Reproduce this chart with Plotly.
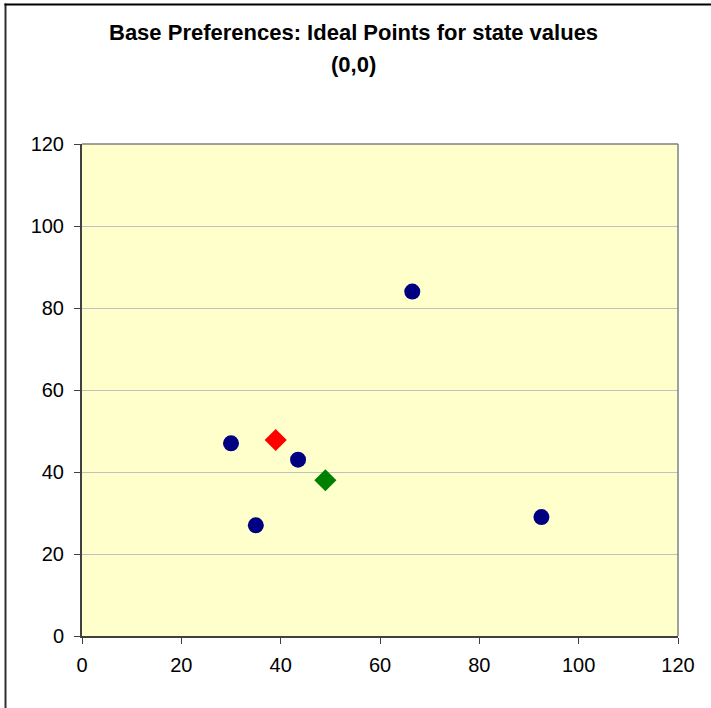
import plotly.graph_objects as go

# data
ideal_x = [30, 35, 43.5, 66.5, 92.5]
ideal_y = [47, 27, 43, 84, 29]
red_x = [39]
red_y = [47.8]
green_x = [49]
green_y = [38]
title_line1 = "Base Preferences: Ideal Points for state values"
title_line2 = "(0,0)"

W, H = 711, 708
L, R, T, B = 82, 33, 144, 72
pw, ph = W - L - R, H - T - B

def px_to_paper_x(px):
    return (px - L) / pw

def py_to_paper_y(py):
    return (H - B - py) / ph

fig = go.Figure()
fig.add_trace(go.Scatter(x=ideal_x, y=ideal_y, mode="markers",
                         marker=dict(symbol="circle", size=16, color="#000080"),
                         showlegend=False))
fig.add_trace(go.Scatter(x=red_x, y=red_y, mode="markers",
                         marker=dict(symbol="diamond", size=17, color="#FF0000"),
                         showlegend=False))
fig.add_trace(go.Scatter(x=green_x, y=green_y, mode="markers",
                         marker=dict(symbol="diamond", size=17, color="#008000"),
                         showlegend=False))

font = "Arial, Liberation Sans, sans-serif"
fig.update_layout(
    width=W, height=H,
    margin=dict(l=L, r=R, t=T, b=B),
    paper_bgcolor="white",
    plot_bgcolor="#FFFFCC",
    font=dict(family=font, size=20, color="black"),
    xaxis=dict(range=[0, 120], tickvals=[0, 20, 40, 60, 80, 100, 120],
               showgrid=False, zeroline=False,
               showline=True, linecolor="#404040", linewidth=2, mirror=False,
               ticks="outside", ticklen=6, tickcolor="#404040", tickwidth=1,
               ticklabelstandoff=4,
               tickfont=dict(size=20, family=font)),
    yaxis=dict(range=[0, 120], tickvals=[0, 20, 40, 60, 80, 100, 120],
               showgrid=True, gridcolor="#C0C0C0", gridwidth=1, zeroline=False,
               showline=True, linecolor="#404040", linewidth=2,
               ticks="outside", ticklen=6, tickcolor="#404040", tickwidth=1,
               ticklabelstandoff=6,
               tickfont=dict(size=20, family=font)),
    annotations=[
        dict(text="<b>" + title_line1 + "</b>", xref="paper", yref="paper",
             x=px_to_paper_x(353), y=py_to_paper_y(32), showarrow=False,
             xanchor="center", yanchor="middle",
             font=dict(size=22, family=font, color="black")),
        dict(text="<b>" + title_line2 + "</b>", xref="paper", yref="paper",
             x=px_to_paper_x(353), y=py_to_paper_y(65), showarrow=False,
             xanchor="center", yanchor="middle",
             font=dict(size=22, family=font, color="black")),
    ],
    shapes=[
        dict(type="line", xref="paper", yref="paper", x0=0, x1=1, y0=1, y1=1,
             line=dict(color="#808080", width=1.5)),
        dict(type="line", xref="paper", yref="paper", x0=1, x1=1, y0=0, y1=1,
             line=dict(color="#808080", width=1.5)),
        # outer chart-area border (left and top edges visible)
        dict(type="rect", xref="paper", yref="paper",
             x0=px_to_paper_x(4.5), x1=px_to_paper_x(6.5),
             y0=py_to_paper_y(720), y1=py_to_paper_y(3.5),
             line=dict(width=0), fillcolor="#303030", layer="above"),
        dict(type="rect", xref="paper", yref="paper",
             x0=px_to_paper_x(4.5), x1=px_to_paper_x(720),
             y0=py_to_paper_y(5.5), y1=py_to_paper_y(3.5),
             line=dict(width=0), fillcolor="#000000", layer="above"),
    ],
)

fig.write_html("out.html",
               config={"displayModeBar": False},
               post_script="document.body.style.margin='0';document.body.style.overflow='hidden';"
                           "document.documentElement.style.overflow='hidden';window.scrollTo(0,0);")
